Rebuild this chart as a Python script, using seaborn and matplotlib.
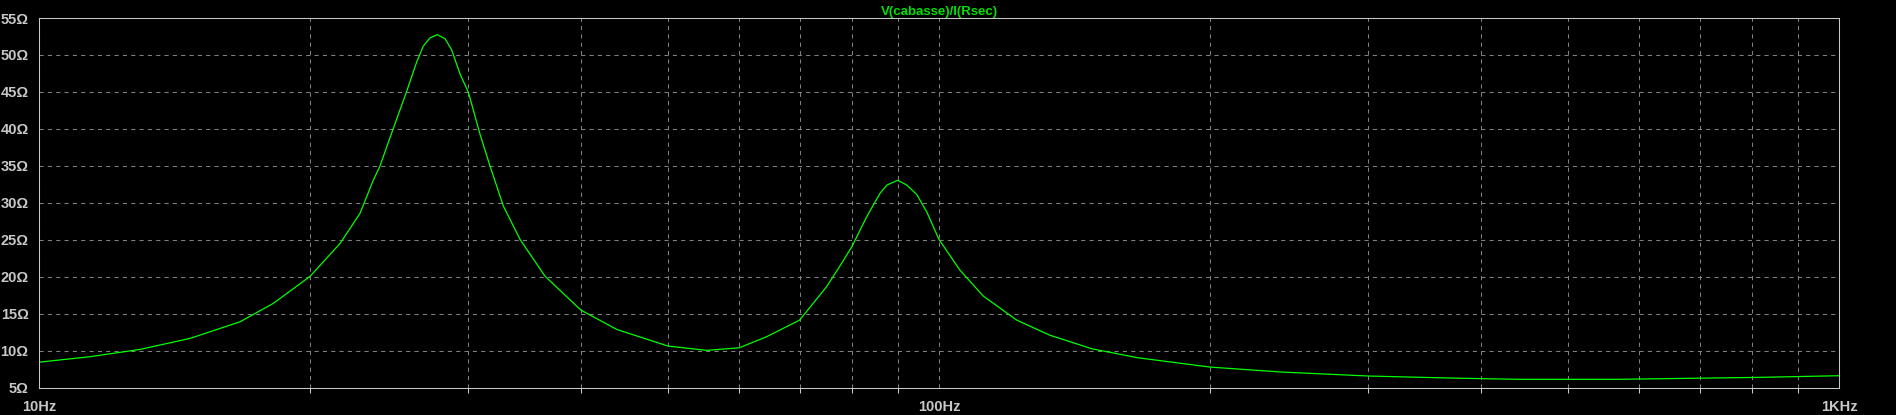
import pandas as pd
import seaborn as sns
import matplotlib.pyplot as plt
from matplotlib.ticker import FixedLocator, NullFormatter

# impedance curve
freq_hz = [10.0, 11.39, 12.95, 14.72, 16.73, 18.21, 20.0, 21.6, 22.73, 23.52,
           23.92, 24.76, 25.62, 26.29, 26.73, 27.19, 27.71, 28.26, 28.74, 29.37,
           30.0, 30.9, 31.7, 32.81, 34.24, 36.49, 40.0, 43.85, 50.0, 55.2,
           60.0, 64.35, 70.0, 75.0, 77.6, 80.0, 83.1, 86.0, 87.5, 90.0,
           92.1, 94.5, 96.9, 100.0, 105.5, 112.0, 122.0, 132.8, 148.0, 166.3,
           200.0, 240.0, 300.0, 368.6, 442.9, 565.6, 639.0, 817.0, 1000.0]
impedance_ohm = [8.45, 9.19, 10.18, 11.67, 13.92, 16.4, 20.04, 24.5, 28.56, 33.06,
                 34.95, 40.1, 45.1, 49.1, 51.2, 52.3, 52.75, 52.2, 50.7, 47.4,
                 44.95, 39.3, 35.0, 29.55, 25.05, 20.09, 15.5, 12.88, 10.63, 10.05,
                 10.4, 11.9, 14.14, 18.65, 21.44, 24.05, 28.1, 31.3, 32.4, 33.06,
                 32.4, 31.1, 28.8, 25.05, 20.9, 17.39, 14.14, 12.1, 10.25, 9.05,
                 7.79, 7.12, 6.58, 6.31, 6.13, 6.13, 6.22, 6.40, 6.62]

y_ticks = [5, 10, 15, 20, 25, 30, 35, 40, 45, 50, 55]
x_major = [10, 100, 1000]
x_major_labels = ["10Hz", "100Hz", "1KHz"]
x_minor = [20, 30, 40, 50, 60, 70, 80, 90, 200, 300, 400, 500, 600, 700, 800, 900]

sns.set_theme(style="dark")
plt.rcParams['font.family'] = ['Liberation Sans', 'DejaVu Sans']
plt.rcParams['font.weight'] = 'bold'

fg = "#c8c8c8"
W, H = 1896, 415
fig = plt.figure(figsize=(W / 100, H / 100), dpi=100, facecolor="black")
ax = fig.add_axes([39 / W, 1 - 387.7 / H, 1800 / W, (387.7 - 18) / H])
ax.set_facecolor("black")

df = pd.DataFrame({"freq": freq_hz, "z": impedance_ohm})
sns.lineplot(data=df, x="freq", y="z", ax=ax, color="#00ff00", linewidth=0.9)

ax.set_xscale("log")
ax.set_xlim(10, 1000)
ax.set_ylim(5, 55)
ax.set_yticks(y_ticks)
ax.set_yticklabels([f"{v}\u03a9" for v in y_ticks])
ax.set_xticks(x_major)
ax.set_xticklabels(x_major_labels)
ax.xaxis.set_minor_locator(FixedLocator(x_minor))
ax.xaxis.set_minor_formatter(NullFormatter())
ax.set_xlabel("")
ax.set_ylabel("")

ax.grid(True, which="both", color="#808080", linestyle=(0, (4, 4)), linewidth=0.75)
ax.tick_params(axis="both", which="major", direction="out", length=6.5, width=0.75,
               color=fg, labelcolor=fg, labelsize=10.5, pad=1)
ax.tick_params(axis="x", which="major", pad=2.5)
ax.tick_params(axis="x", which="minor", direction="out", length=3.5, width=0.75,
               color=fg, bottom=True)
for s in ax.spines.values():
    s.set_visible(True)
    s.set_color(fg)
    s.set_linewidth(0.75)

ax.set_title("V(cabasse)/I(Rsec)", color="#00e000", fontsize=9.5,
             fontweight="bold", pad=2)

fig.savefig("out.png", dpi=100, facecolor="black")
